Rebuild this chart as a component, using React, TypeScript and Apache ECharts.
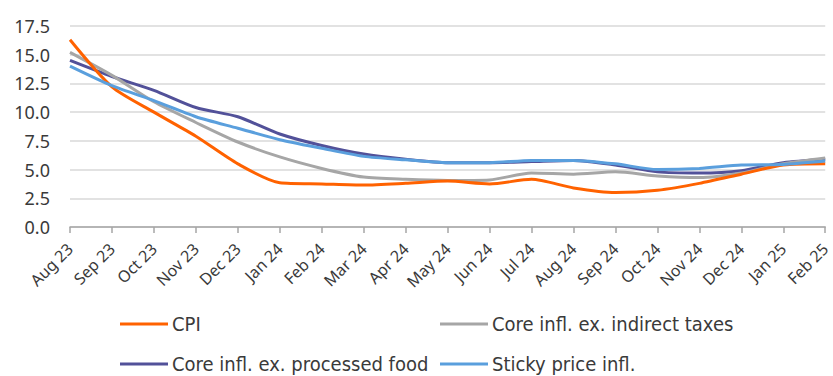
import React, { useEffect, useRef } from "react";
import * as echarts from "echarts";

const categories = [
  "Aug 23", "Sep 23", "Oct 23", "Nov 23", "Dec 23", "Jan 24", "Feb 24", "Mar 24", "Apr 24", "May 24",
  "Jun 24", "Jul 24", "Aug 24", "Sep 24", "Oct 24", "Nov 24", "Dec 24", "Jan 25", "Feb 25",
];

const cpi = [16.3, 12.2, 10.0, 7.9, 5.5, 3.85, 3.75, 3.65, 3.8, 4.0, 3.75, 4.15, 3.4, 3.0, 3.2, 3.8, 4.6, 5.4, 5.5];
const coreExTaxes = [15.2, 13.2, 10.9, 9.1, 7.4, 6.1, 5.1, 4.35, 4.15, 4.05, 4.1, 4.7, 4.6, 4.8, 4.45, 4.3, 4.7, 5.5, 6.0];
const coreExFood = [14.5, 13.1, 11.9, 10.4, 9.6, 8.1, 7.1, 6.35, 5.9, 5.6, 5.6, 5.7, 5.8, 5.4, 4.8, 4.7, 4.9, 5.6, 5.9];
const sticky = [14.0, 12.3, 11.0, 9.6, 8.6, 7.6, 6.85, 6.15, 5.85, 5.6, 5.6, 5.8, 5.8, 5.5, 5.0, 5.1, 5.4, 5.45, 5.75];

const seriesNames = ["CPI", "Core infl. ex. indirect taxes", "Core infl. ex. processed food", "Sticky price infl."];
const seriesColors = ["#FF6200", "#A6A6A6", "#525199", "#5A9FDD"];
const seriesData = [cpi, coreExTaxes, coreExFood, sticky];

const yTicks = { min: 0, max: 17.5, interval: 2.5 };

export default function App() {
  const ref = useRef<HTMLDivElement>(null);
  useEffect(() => {
    if (!ref.current) return;
    const chart = echarts.init(ref.current, null, { renderer: "svg" });
    const font = "'Liberation Sans Narrow', 'DejaVu Sans Condensed', sans-serif";
    const legendPos = [
      { left: 120, top: 314 },
      { left: 440, top: 314 },
      { left: 120, top: 354 },
      { left: 440, top: 354 },
    ];
    chart.setOption({
      animation: false,
      backgroundColor: "#ffffff",
      grid: { left: 70, right: 5, top: 26, bottom: 149, containLabel: false },
      legend: seriesNames.map((n, i) => ({
        data: [n],
        left: legendPos[i].left,
        top: legendPos[i].top,
        icon: "rect",
        itemWidth: 48,
        itemHeight: 3,
        padding: 0,
        textStyle: { fontFamily: font, fontSize: 20, color: "#3a3a3a", padding: [0, 0, 0, -1] },
      })),
      xAxis: {
        type: "category",
        data: categories,
        boundaryGap: false,
        axisLine: { lineStyle: { color: "#A6A6A6", width: 1.5 } },
        axisTick: { show: true, length: 6, lineStyle: { color: "#A6A6A6", width: 1.5 } },
        axisLabel: {
          rotate: 45,
          margin: 19,
          interval: 0,
          fontFamily: "'Noto Sans', sans-serif",
          fontSize: 16,
          color: "#3a3a3a",
        },
      },
      yAxis: {
        type: "value",
        min: yTicks.min,
        max: yTicks.max,
        interval: yTicks.interval,
        axisLine: { show: false },
        axisTick: { show: false },
        splitLine: { lineStyle: { color: "#D9D9D9", width: 1.5 } },
        axisLabel: {
          formatter: (v: number) => v.toFixed(1),
          margin: 20,
          fontFamily: "'Noto Sans', sans-serif",
          fontSize: 18,
          color: "#3a3a3a",
        },
      },
      series: seriesNames.map((n, i) => ({
        name: n,
        type: "line",
        data: seriesData[i],
        symbol: "none",
        smooth: 0.25,
        lineStyle: { color: seriesColors[i], width: 3 },
        itemStyle: { color: seriesColors[i] },
        z: [4, 3, 2, 5][i],
      })),
    });
    return () => chart.dispose();
  }, []);
  return (
    <div
      ref={ref}
      style={{ position: "fixed", left: 0, top: 0, width: 833, height: 376 }}
    />
  );
}
